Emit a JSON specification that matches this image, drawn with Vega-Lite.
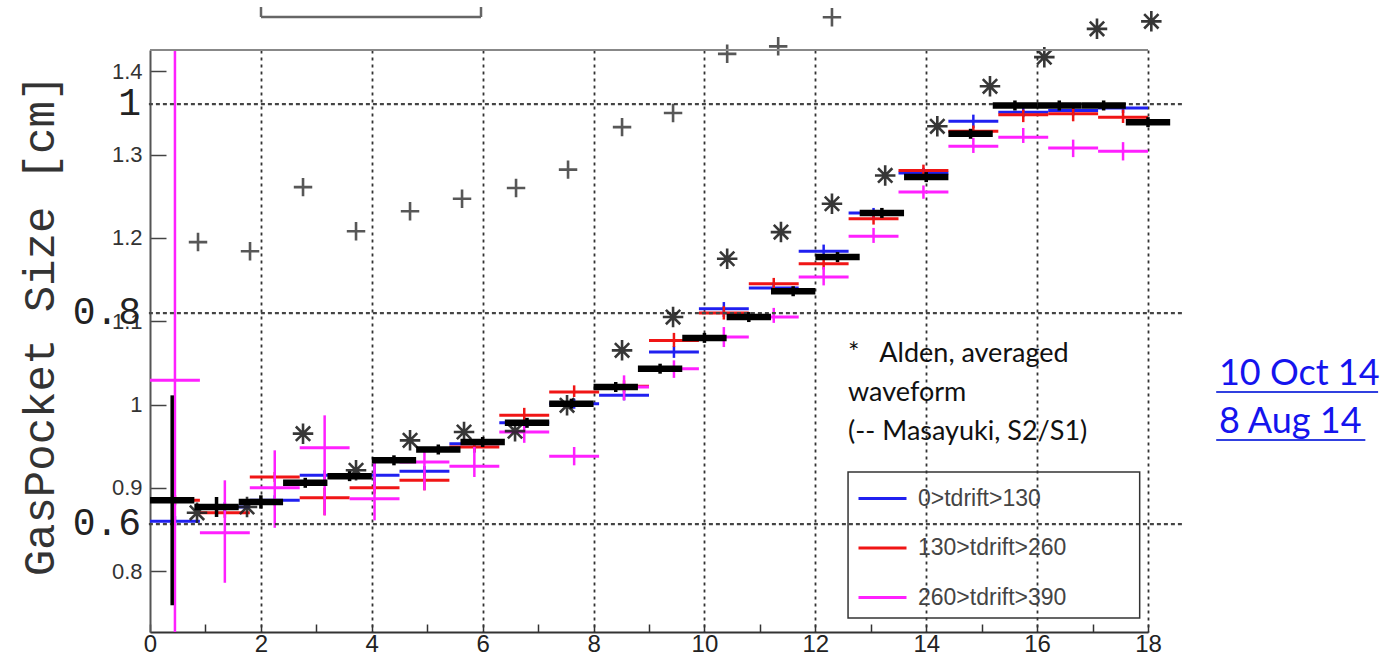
{
"$schema": "https://vega.github.io/schema/vega-lite/v6.json",
"width": 998, "height": 582,
"autosize": {"type": "none"},
"padding": {"left": 150, "top": 50, "right": 238, "bottom": 28},
"background": "white",
"config": {"view": {"stroke": null}},
"datasets": {
"sec": [{"label": "1", "y": 1.3607}, {"label": "0.8", "y": 1.1098}, {"label": "0.6", "y": 0.8565}],
"colored": [
{"s":"0>tdrift>130","x0":0,"x1":0.9,"xc":0.45,"y":0.860,"lo":0.854,"hi":0.866},
{"s":"0>tdrift>130","x0":0.9,"x1":1.8,"xc":1.35,"y":0.877,"lo":0.871,"hi":0.883},
{"s":"0>tdrift>130","x0":1.8,"x1":2.7,"xc":2.25,"y":0.885,"lo":0.879,"hi":0.891},
{"s":"0>tdrift>130","x0":2.7,"x1":3.6,"xc":3.15,"y":0.915,"lo":0.909,"hi":0.921},
{"s":"0>tdrift>130","x0":3.6,"x1":4.5,"xc":4.05,"y":0.915,"lo":0.903,"hi":0.930},
{"s":"0>tdrift>130","x0":4.5,"x1":5.4,"xc":4.95,"y":0.920,"lo":0.914,"hi":0.926},
{"s":"0>tdrift>130","x0":5.4,"x1":6.3,"xc":5.85,"y":0.953,"lo":0.942,"hi":0.958},
{"s":"0>tdrift>130","x0":6.3,"x1":7.2,"xc":6.75,"y":0.978,"lo":0.972,"hi":0.984},
{"s":"0>tdrift>130","x0":7.2,"x1":8.1,"xc":7.65,"y":1.001,"lo":0.995,"hi":1.007},
{"s":"0>tdrift>130","x0":8.1,"x1":9.0,"xc":8.55,"y":1.011,"lo":1.005,"hi":1.017},
{"s":"0>tdrift>130","x0":9.0,"x1":9.9,"xc":9.45,"y":1.063,"lo":1.056,"hi":1.070},
{"s":"0>tdrift>130","x0":9.9,"x1":10.8,"xc":10.35,"y":1.115,"lo":1.105,"hi":1.123},
{"s":"0>tdrift>130","x0":10.8,"x1":11.7,"xc":11.25,"y":1.140,"lo":1.134,"hi":1.146},
{"s":"0>tdrift>130","x0":11.7,"x1":12.6,"xc":12.15,"y":1.184,"lo":1.176,"hi":1.192},
{"s":"0>tdrift>130","x0":12.6,"x1":13.5,"xc":13.05,"y":1.230,"lo":1.223,"hi":1.236},
{"s":"0>tdrift>130","x0":13.5,"x1":14.4,"xc":13.95,"y":1.278,"lo":1.272,"hi":1.284},
{"s":"0>tdrift>130","x0":14.4,"x1":15.3,"xc":14.85,"y":1.340,"lo":1.332,"hi":1.348},
{"s":"0>tdrift>130","x0":15.3,"x1":16.2,"xc":15.75,"y":1.351,"lo":1.345,"hi":1.357},
{"s":"0>tdrift>130","x0":16.2,"x1":17.1,"xc":16.65,"y":1.353,"lo":1.347,"hi":1.359},
{"s":"0>tdrift>130","x0":17.1,"x1":18.0,"xc":17.55,"y":1.356,"lo":1.350,"hi":1.362},
{"s":"130>tdrift>260","x0":0,"x1":0.9,"xc":0.45,"y":0.885,"lo":0.879,"hi":0.891},
{"s":"130>tdrift>260","x0":0.9,"x1":1.8,"xc":1.35,"y":0.870,"lo":0.864,"hi":0.876},
{"s":"130>tdrift>260","x0":1.8,"x1":2.7,"xc":2.25,"y":0.913,"lo":0.907,"hi":0.919},
{"s":"130>tdrift>260","x0":2.7,"x1":3.6,"xc":3.15,"y":0.888,"lo":0.867,"hi":0.900},
{"s":"130>tdrift>260","x0":3.6,"x1":4.5,"xc":4.05,"y":0.900,"lo":0.893,"hi":0.907},
{"s":"130>tdrift>260","x0":4.5,"x1":5.4,"xc":4.95,"y":0.909,"lo":0.897,"hi":0.918},
{"s":"130>tdrift>260","x0":5.4,"x1":6.3,"xc":5.85,"y":0.949,"lo":0.943,"hi":0.955},
{"s":"130>tdrift>260","x0":6.3,"x1":7.2,"xc":6.75,"y":0.987,"lo":0.981,"hi":0.996},
{"s":"130>tdrift>260","x0":7.2,"x1":8.1,"xc":7.65,"y":1.015,"lo":1.009,"hi":1.023},
{"s":"130>tdrift>260","x0":8.1,"x1":9.0,"xc":8.55,"y":1.022,"lo":1.015,"hi":1.029},
{"s":"130>tdrift>260","x0":9.0,"x1":9.9,"xc":9.45,"y":1.077,"lo":1.069,"hi":1.086},
{"s":"130>tdrift>260","x0":9.9,"x1":10.8,"xc":10.35,"y":1.110,"lo":1.102,"hi":1.118},
{"s":"130>tdrift>260","x0":10.8,"x1":11.7,"xc":11.25,"y":1.145,"lo":1.138,"hi":1.152},
{"s":"130>tdrift>260","x0":11.7,"x1":12.6,"xc":12.15,"y":1.169,"lo":1.162,"hi":1.176},
{"s":"130>tdrift>260","x0":12.6,"x1":13.5,"xc":13.05,"y":1.223,"lo":1.216,"hi":1.230},
{"s":"130>tdrift>260","x0":13.5,"x1":14.4,"xc":13.95,"y":1.281,"lo":1.274,"hi":1.288},
{"s":"130>tdrift>260","x0":14.4,"x1":15.3,"xc":14.85,"y":1.328,"lo":1.321,"hi":1.335},
{"s":"130>tdrift>260","x0":15.3,"x1":16.2,"xc":15.75,"y":1.348,"lo":1.339,"hi":1.354},
{"s":"130>tdrift>260","x0":16.2,"x1":17.1,"xc":16.65,"y":1.349,"lo":1.340,"hi":1.356},
{"s":"130>tdrift>260","x0":17.1,"x1":18.0,"xc":17.55,"y":1.345,"lo":1.338,"hi":1.354},
{"s":"260>tdrift>390","x0":0,"x1":0.9,"xc":0.45,"y":1.029,"lo":0.7269,"hi":1.4256},
{"s":"260>tdrift>390","x0":0.9,"x1":1.8,"xc":1.35,"y":0.846,"lo":0.786,"hi":0.909},
{"s":"260>tdrift>390","x0":1.8,"x1":2.7,"xc":2.25,"y":0.900,"lo":0.852,"hi":0.945},
{"s":"260>tdrift>390","x0":2.7,"x1":3.6,"xc":3.15,"y":0.948,"lo":0.867,"hi":0.987},
{"s":"260>tdrift>390","x0":3.6,"x1":4.5,"xc":4.05,"y":0.887,"lo":0.861,"hi":0.930},
{"s":"260>tdrift>390","x0":4.5,"x1":5.4,"xc":4.95,"y":0.931,"lo":0.897,"hi":0.949},
{"s":"260>tdrift>390","x0":5.4,"x1":6.3,"xc":5.85,"y":0.926,"lo":0.913,"hi":0.949},
{"s":"260>tdrift>390","x0":6.3,"x1":7.2,"xc":6.75,"y":0.967,"lo":0.954,"hi":0.977},
{"s":"260>tdrift>390","x0":7.2,"x1":8.1,"xc":7.65,"y":0.938,"lo":0.927,"hi":0.949},
{"s":"260>tdrift>390","x0":8.1,"x1":9.0,"xc":8.55,"y":1.021,"lo":1.005,"hi":1.035},
{"s":"260>tdrift>390","x0":9.0,"x1":9.9,"xc":9.45,"y":1.043,"lo":1.032,"hi":1.053},
{"s":"260>tdrift>390","x0":9.9,"x1":10.8,"xc":10.35,"y":1.081,"lo":1.069,"hi":1.093},
{"s":"260>tdrift>390","x0":10.8,"x1":11.7,"xc":11.25,"y":1.105,"lo":1.098,"hi":1.116},
{"s":"260>tdrift>390","x0":11.7,"x1":12.6,"xc":12.15,"y":1.153,"lo":1.143,"hi":1.165},
{"s":"260>tdrift>390","x0":12.6,"x1":13.5,"xc":13.05,"y":1.202,"lo":1.194,"hi":1.212},
{"s":"260>tdrift>390","x0":13.5,"x1":14.4,"xc":13.95,"y":1.255,"lo":1.247,"hi":1.263},
{"s":"260>tdrift>390","x0":14.4,"x1":15.3,"xc":14.85,"y":1.310,"lo":1.302,"hi":1.320},
{"s":"260>tdrift>390","x0":15.3,"x1":16.2,"xc":15.75,"y":1.321,"lo":1.314,"hi":1.332},
{"s":"260>tdrift>390","x0":16.2,"x1":17.1,"xc":16.65,"y":1.308,"lo":1.297,"hi":1.318},
{"s":"260>tdrift>390","x0":17.1,"x1":18.0,"xc":17.55,"y":1.304,"lo":1.293,"hi":1.315}
],
"black": [
{"x0":0,"x1":0.8,"xc":0.4,"y":0.885,"lo":0.759,"hi":1.011},
{"x0":0.8,"x1":1.6,"xc":1.2,"y":0.877,"lo":0.865,"hi":0.889},
{"x0":1.6,"x1":2.4,"xc":2.0,"y":0.883,"lo":0.875,"hi":0.891},
{"x0":2.4,"x1":3.2,"xc":2.8,"y":0.906,"lo":0.900,"hi":0.912},
{"x0":3.2,"x1":4.0,"xc":3.6,"y":0.914,"lo":0.908,"hi":0.920},
{"x0":4.0,"x1":4.8,"xc":4.4,"y":0.933,"lo":0.927,"hi":0.939},
{"x0":4.8,"x1":5.6,"xc":5.2,"y":0.946,"lo":0.940,"hi":0.952},
{"x0":5.6,"x1":6.4,"xc":6.0,"y":0.955,"lo":0.949,"hi":0.961},
{"x0":6.4,"x1":7.2,"xc":6.8,"y":0.978,"lo":0.972,"hi":0.984},
{"x0":7.2,"x1":8.0,"xc":7.6,"y":1.001,"lo":0.995,"hi":1.007},
{"x0":8.0,"x1":8.8,"xc":8.4,"y":1.021,"lo":1.015,"hi":1.027},
{"x0":8.8,"x1":9.6,"xc":9.2,"y":1.043,"lo":1.037,"hi":1.049},
{"x0":9.6,"x1":10.4,"xc":10.0,"y":1.080,"lo":1.074,"hi":1.086},
{"x0":10.4,"x1":11.2,"xc":10.8,"y":1.105,"lo":1.099,"hi":1.111},
{"x0":11.2,"x1":12.0,"xc":11.6,"y":1.136,"lo":1.130,"hi":1.142},
{"x0":12.0,"x1":12.8,"xc":12.4,"y":1.177,"lo":1.171,"hi":1.183},
{"x0":12.8,"x1":13.6,"xc":13.2,"y":1.230,"lo":1.224,"hi":1.236},
{"x0":13.6,"x1":14.4,"xc":14.0,"y":1.273,"lo":1.267,"hi":1.279},
{"x0":14.4,"x1":15.2,"xc":14.8,"y":1.325,"lo":1.319,"hi":1.331},
{"x0":15.2,"x1":16.0,"xc":15.6,"y":1.359,"lo":1.353,"hi":1.365},
{"x0":16.0,"x1":16.8,"xc":16.4,"y":1.359,"lo":1.353,"hi":1.365},
{"x0":16.8,"x1":17.6,"xc":17.2,"y":1.359,"lo":1.353,"hi":1.365},
{"x0":17.6,"x1":18.4,"xc":18.0,"y":1.339,"lo":1.333,"hi":1.345}
],
"alden": [
{"x":0.848,"y":0.870},{"x":1.750,"y":0.877},{"x":2.760,"y":0.965},{"x":3.716,"y":0.921},
{"x":4.690,"y":0.957},{"x":5.664,"y":0.967},{"x":6.584,"y":0.968},{"x":7.522,"y":0.999},
{"x":8.514,"y":1.065},{"x":9.434,"y":1.105},{"x":10.41,"y":1.175},{"x":11.38,"y":1.207},
{"x":12.30,"y":1.241},{"x":13.26,"y":1.275},{"x":14.20,"y":1.334},{"x":15.15,"y":1.382},
{"x":16.13,"y":1.417},{"x":17.08,"y":1.451},{"x":18.06,"y":1.460}
],
"masayuki": [
{"x":0.866,"y":1.195},{"x":1.804,"y":1.184},{"x":2.760,"y":1.261},{"x":3.716,"y":1.208},
{"x":4.690,"y":1.232},{"x":5.628,"y":1.247},{"x":6.602,"y":1.260},{"x":7.540,"y":1.282},
{"x":8.514,"y":1.333},{"x":9.434,"y":1.350},{"x":10.41,"y":1.421},{"x":11.33,"y":1.430},
{"x":12.30,"y":1.465}
]
},
"layer": [
{
"data": {"name": "colored"},
"mark": {"type": "rule", "strokeWidth": 3},
"encoding": {
"x": {"field": "x0", "type": "quantitative", "scale": {"domain": [0, 18], "nice": false, "zero": false},
 "axis": {"title": null, "values": [0,0.5,1,1.5,2,2.5,3,3.5,4,4.5,5,5.5,6,6.5,7,7.5,8,8.5,9,9.5,10,10.5,11,11.5,12,12.5,13,13.5,14,14.5,15,15.5,16,16.5,17,17.5,18],
  "labelExpr": "datum.value % 2 == 0 ? datum.label : ''", "labelOverlap": false, "labelFlush": false,
  "tickSize": -8, "tickColor": "#333", "tickWidth": 1.5, "domainColor": "#333", "domainWidth": 2,
  "labelFont": "Liberation Sans", "labelFontSize": 24, "labelColor": "#222", "labelPadding": 8,
  "grid": true, "gridDash": [3, 4], "gridColor": "#333", "gridWidth": 1.8,
  "gridOpacity": {"condition": {"test": "datum.value % 2 == 0 && datum.value > 0", "value": 1}, "value": 0}}},
"x2": {"field": "x1"},
"y": {"field": "y", "type": "quantitative", "scale": {"domain": [0.7269, 1.4256], "nice": false, "zero": false},
 "axis": {"title": "GasPocket Size [cm]", "values": [0.8, 0.9, 1, 1.1, 1.2, 1.3, 1.4], "format": ".2~g", "labelOverlap": false,
  "tickSize": -16, "tickColor": "#444", "tickWidth": 1.5, "domainColor": "#555", "domainWidth": 2, "grid": false,
  "labelFont": "Liberation Sans", "labelFontSize": 22, "labelColor": "#333", "labelPadding": 24,
  "titleFont": "Liberation Mono", "titleFontSize": 44, "titleFontWeight": "normal", "titleColor": "#333",
  "titleAngle": 270, "titleX": -110, "titleY": 275, "titleAlign": "center", "titleBaseline": "middle"}},
"color": {"field": "s", "type": "nominal",
 "scale": {"domain": ["0>tdrift>130", "130>tdrift>260", "260>tdrift>390"], "range": ["#2020f0", "#f01515", "#ff20ff"]},
 "legend": {"orient": "none", "legendX": 707, "legendY": 423, "title": null, "symbolType": "stroke", "symbolSize": 2304,
  "symbolStrokeWidth": 3, "labelFont": "Liberation Sans", "labelFontSize": 23, "labelColor": "#444", "labelOffset": 10,
  "rowPadding": 11.5, "padding": 0, "symbolOffset": 0}}
}
},
{
"data": {"name": "colored"},
"mark": {"type": "rule", "strokeWidth": 2.5},
"encoding": {
"x": {"field": "xc", "type": "quantitative", "scale": {"domain": [0, 18], "nice": false, "zero": false}},
"y": {"field": "lo", "type": "quantitative", "scale": {"domain": [0.7269, 1.4256], "nice": false, "zero": false}},
"y2": {"field": "hi"},
"color": {"field": "s", "type": "nominal", "scale": {"domain": ["0>tdrift>130", "130>tdrift>260", "260>tdrift>390"], "range": ["#2020f0", "#f01515", "#ff20ff"]}}
}
},
{
"data": {"name": "sec"},
"mark": {"type": "rule", "strokeWidth": 2.2, "strokeDash": [4, 3], "color": "#444"},
"encoding": {
"x": {"datum": -0.02, "type": "quantitative", "scale": {"domain": [0, 18], "nice": false, "zero": false}},
"x2": {"datum": 18.65},
"y": {"field": "y", "type": "quantitative", "scale": {"domain": [0.7269, 1.4256], "nice": false, "zero": false}}
}
},
{
"data": {"name": "alden"},
"mark": {"type": "point", "shape": "M-1,0L1,0M0,-1L0,1M-0.7,-0.7L0.7,0.7M-0.7,0.7L0.7,-0.7", "size": 420, "filled": false, "strokeWidth": 2.6, "color": "#222", "opacity": 0.9},
"encoding": {
"x": {"field": "x", "type": "quantitative", "scale": {"domain": [0, 18], "nice": false, "zero": false}},
"y": {"field": "y", "type": "quantitative", "scale": {"domain": [0.7269, 1.4256], "nice": false, "zero": false}}
}
},
{
"data": {"name": "black"},
"mark": {"type": "rule", "strokeWidth": 6.5, "color": "#000"},
"encoding": {
"x": {"field": "x0", "type": "quantitative", "scale": {"domain": [0, 18], "nice": false, "zero": false}},
"x2": {"field": "x1"},
"y": {"field": "y", "type": "quantitative", "scale": {"domain": [0.7269, 1.4256], "nice": false, "zero": false}}
}
},
{
"data": {"name": "black"},
"mark": {"type": "rule", "strokeWidth": 3.5, "color": "#000"},
"encoding": {
"x": {"field": "xc", "type": "quantitative", "scale": {"domain": [0, 18], "nice": false, "zero": false}},
"y": {"field": "lo", "type": "quantitative", "scale": {"domain": [0.7269, 1.4256], "nice": false, "zero": false}},
"y2": {"field": "hi"}
}
},
{
"data": {"name": "masayuki"},
"mark": {"type": "point", "shape": "M-1,0L1,0M0,-1L0,1", "size": 340, "filled": false, "strokeWidth": 2.6, "color": "#111"},
"encoding": {
"x": {"field": "x", "type": "quantitative", "scale": {"domain": [0, 18], "nice": false, "zero": false}},
"y": {"field": "y", "type": "quantitative", "scale": {"domain": [0.7269, 1.4256], "nice": false, "zero": false}}
}
},
{
"data": {"name": "sec"},
"mark": {"type": "text", "align": "right", "baseline": "middle", "font": "Liberation Mono", "fontSize": 38, "color": "#222"},
"encoding": {
"x": {"datum": -0.16, "type": "quantitative", "scale": {"domain": [0, 18], "nice": false, "zero": false}},
"y": {"field": "y", "type": "quantitative", "scale": {"domain": [0.7269, 1.4256], "nice": false, "zero": false}},
"text": {"field": "label"}
}
},
{
"data": {"values": [{}]},
"mark": {"type": "rule", "strokeWidth": 2, "color": "#888"},
"encoding": {
"x": {"datum": 0, "type": "quantitative", "scale": {"domain": [0, 18], "nice": false, "zero": false}},
"x2": {"datum": 18},
"y": {"datum": 1.4256, "type": "quantitative", "scale": {"domain": [0.7269, 1.4256], "nice": false, "zero": false}}
}
},
{
"data": {"values": [{}]},
"mark": {"type": "rule", "strokeWidth": 2.5, "color": "#666"},
"encoding": {
"x": {"datum": 2.002, "type": "quantitative", "scale": {"domain": [0, 18], "nice": false, "zero": false}},
"x2": {"datum": 5.97},
"y": {"datum": 1.4652, "type": "quantitative", "scale": {"domain": [0.7269, 1.4256], "nice": false, "zero": false}}
}
},
{
"data": {"values": [{}]},
"mark": {"type": "rule", "strokeWidth": 2.5, "color": "#666"},
"encoding": {
"x": {"datum": 2.002, "type": "quantitative", "scale": {"domain": [0, 18], "nice": false, "zero": false}},
"y": {"datum": 1.4652, "type": "quantitative", "scale": {"domain": [0.7269, 1.4256], "nice": false, "zero": false}},
"y2": {"datum": 1.4772}
}
},
{
"data": {"values": [{}]},
"mark": {"type": "rule", "strokeWidth": 2.5, "color": "#666"},
"encoding": {
"x": {"datum": 5.97, "type": "quantitative", "scale": {"domain": [0, 18], "nice": false, "zero": false}},
"y": {"datum": 1.4652, "type": "quantitative", "scale": {"domain": [0.7269, 1.4256], "nice": false, "zero": false}},
"y2": {"datum": 1.4772}
}
},
{
"data": {"values": [{}]},
"mark": {"type": "rect", "fill": null, "fillOpacity": 0, "stroke": "#333", "strokeWidth": 1.5},
"encoding": {
"x": {"datum": 12.59, "type": "quantitative", "scale": {"domain": [0, 18], "nice": false, "zero": false}},
"x2": {"datum": 17.85},
"y": {"datum": 0.919, "type": "quantitative", "scale": {"domain": [0.7269, 1.4256], "nice": false, "zero": false}},
"y2": {"datum": 0.7437}
}
},
{
"data": {"values": [{"t": "*\u00a0\u00a0 Alden, averaged", "y": 1.051}, {"t": "waveform", "y": 1.0042}, {"t": "(-- Masayuki, S2/S1)", "y": 0.9574}]},
"mark": {"type": "text", "align": "left", "baseline": "alphabetic", "font": "Lato", "fontSize": 27, "color": "#111"},
"encoding": {
"x": {"datum": 12.59, "type": "quantitative", "scale": {"domain": [0, 18], "nice": false, "zero": false}},
"y": {"field": "y", "type": "quantitative", "scale": {"domain": [0.7269, 1.4256], "nice": false, "zero": false}},
"text": {"field": "t"}
}
},
{
"data": {"values": [{"t": "10 Oct 14", "y": 1.0234}, {"t": "8 Aug 14", "y": 0.9658}]},
"mark": {"type": "text", "align": "left", "baseline": "alphabetic", "font": "Lato", "fontSize": 36, "color": "#1414ee"},
"encoding": {
"x": {"datum": 19.28, "type": "quantitative", "scale": {"domain": [0, 18], "nice": false, "zero": false}},
"y": {"field": "y", "type": "quantitative", "scale": {"domain": [0.7269, 1.4256], "nice": false, "zero": false}},
"text": {"field": "t"}
}
},
{
"data": {"values": [{}]},
"mark": {"type": "rule", "strokeWidth": 2, "color": "#3040e0"},
"encoding": {
"x": {"datum": 19.23, "type": "quantitative", "scale": {"domain": [0, 18], "nice": false, "zero": false}},
"x2": {"datum": 22.15},
"y": {"datum": 1.015, "type": "quantitative", "scale": {"domain": [0.7269, 1.4256], "nice": false, "zero": false}}
}
},
{
"data": {"values": [{}]},
"mark": {"type": "rule", "strokeWidth": 2, "color": "#3040e0"},
"encoding": {
"x": {"datum": 19.23, "type": "quantitative", "scale": {"domain": [0, 18], "nice": false, "zero": false}},
"x2": {"datum": 21.92},
"y": {"datum": 0.9574, "type": "quantitative", "scale": {"domain": [0.7269, 1.4256], "nice": false, "zero": false}}
}
}
]
}
